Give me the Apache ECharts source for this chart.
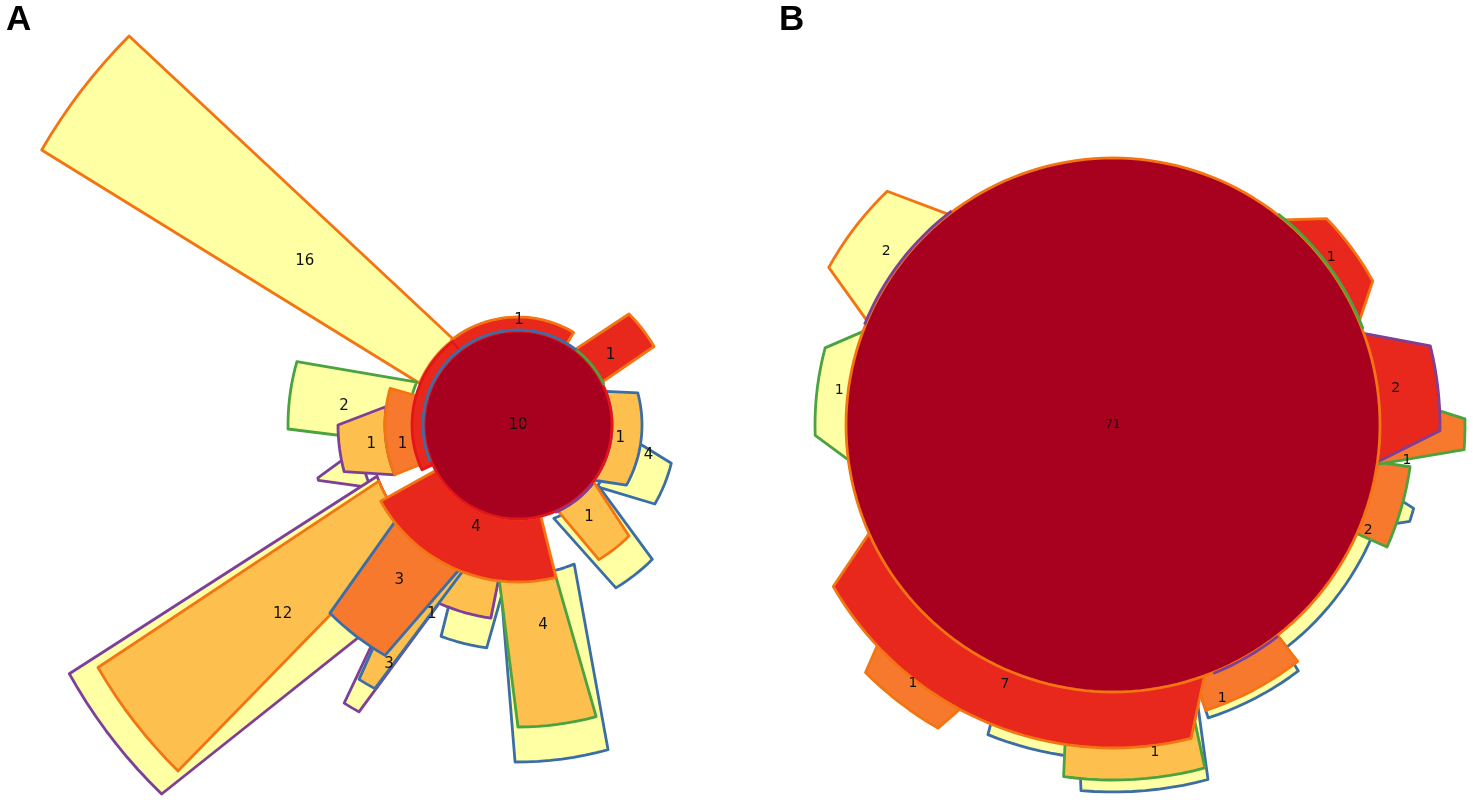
<!DOCTYPE html>
<html><head><meta charset="utf-8">
<script src="https://cdn.jsdelivr.net/npm/echarts@6/dist/echarts.min.js"></script>
<style>html,body{margin:0;padding:0;background:#fff}#c{width:1473px;height:800px}</style>
</head><body><div id="c"></div>
<script>
// Fill level of each region (0 = core circle, 4 = outermost)
const levelNames = ['core', 'level 1', 'level 2', 'level 3', 'level 4'];
// Outline set of each region
const setNames = ['set red', 'set blue', 'set green', 'set purple', 'set orange'];

// Panel A regions: [radius inner, radius outer, outer angle start, outer angle end, inner angle start, inner angle end, level, set]
const sectorsA = [
  [107, 550, 135, 150, 127, 157, 4, 4],
  [110, 230, 164, 181, 157, 190, 4, 2],
  [160, 207, 194.8, 195.5, 188, 203, 4, 3],
  [150, 513, 209, 226, 200, 245, 4, 3],
  [150, 328, 238, 241, 230, 250, 4, 3],
  [150, 225, 250, 262, 247, 266, 4, 1],
  [150, 337, 269.5, 285.5, 263, 292, 4, 1],
  [100, 158, -30, -14, -38, -3, 4, 1],
  [100, 190, -59, -45, -69, -37, 4, 1],
  [150, 485, 210, 225.5, 202, 225, 3, 4],
  [133, 180, 180, 195, 172, 202, 3, 3],
  [150, 195, 243, 262, 240, 263, 3, 3],
  [150, 300, 238, 241.5, 230, 250, 3, 1],
  [155, 302, 270, 285, 263, 284, 3, 2],
  [94, 124, -29, 15, -36, 21, 3, 1],
  [95, 157, -59, -45, -65, -37, 3, 4],
  [155, 266, 225, 240, 218, 248, 2, 1],
  [94, 133, 164, 202, 164, 202, 2, 4],
  [94, 157, 209, 284, 209, 284, 1, 4],
  [94, 157, 30, 45, 27, 53, 1, 4],
  [94, 108, 59, 128, 59, 128, 1, 4],
  [94, 106, 128, 205, 128, 205, 1, 0],
  [0, 94, 0, 360, 0, 360, 0, 0]
];
// Panel A outline arcs: [radius, angle start, angle end, set]
const outlinesA = [
  [95, 52, 203, 1],
  [95, 25, 52, 2],
  [95, -67, -38, 3]
];
// Panel A labels: [radius, angle, count]
const labelsA = [
  [269, 142.4, 16], [175, 173.8, 2], [148, 187.4, 1], [117, 189.3, 1],
  [105, 89.5, 1], [116, 37, 1], [0, 0, 10], [103, -7.3, 1], [134, -12.9, 4],
  [116, -52.3, 1], [110, 247.6, 4], [195, 232.5, 3], [302, 218.8, 12],
  [208, 245.5, 1], [272, 241.7, 3], [202, 277.1, 4]
];

// Panel B regions
const sectorsB = [
  [260, 325, 134, 151, 127, 158, 4, 4],
  [260, 298, 165, 182, 158, 189, 4, 2],
  [260, 282, -52, -17, -52, -12, 4, 1],
  [260, 312, -18, -15.5, -24, -12, 4, 1],
  [260, 308, -72, -53, -72, -52, 4, 1],
  [260, 367, 265, 285, 262, 288, 4, 1],
  [260, 334, 248, 263, 246, 264, 4, 1],
  [260, 355, 262, 285, 260, 286, 3, 2],
  [260, 350, 225, 240, 217, 247, 2, 4],
  [260, 300, -72, -52, -72, -52, 2, 4],
  [260, 300, -24, -8, -24, -8, 2, 2],
  [260, 352, -4, 1, -9, 8, 2, 2],
  [260, 297, 29, 44, 21, 52, 1, 4],
  [260, 327, -1, 14, -9, 21, 1, 3],
  [260, 323, 210, 284, 203, 291, 1, 4],
  [0, 267, 0, 360, 0, 360, 0, 4]
];
const outlinesB = [
  [268, 21, 52, 2],
  [268, 127, 158, 3],
  [268, 292, 308, 3]
];
const labelsB = [
  [0, 0, 71], [286, 142.5, 2], [276, 172.7, 1], [275, 37.5, 1], [285, 7.4, 2],
  [296, -6.8, 1], [276, -22.4, 2], [294, -68.2, 1], [330, 277.3, 1],
  [281, 247.4, 7], [327, 232.3, 1]
];

const levelColors = ['#A8001F', '#E8271D', '#F7792E', '#FDC04F', '#FFFFA3'];
const setColors = ['#E3151B', '#3B6EA8', '#4AA33F', '#7D3F98', '#F57412'];

function norm(a) { return ((a % 360) + 360) % 360; }

function arcPoints(api, r, a0, a1) {
  const pts = [];
  const n = Math.max(2, Math.ceil(Math.abs(a1 - a0) / 2));
  for (let i = 0; i <= n; i++) {
    const a = a0 + (a1 - a0) * i / n;
    pts.push(api.coord([r, norm(a)]));
  }
  return pts;
}

function renderSector(params, api) {
  const r0 = api.value(0), r1 = api.value(1);
  const oa0 = api.value(2), oa1 = api.value(3), ia0 = api.value(4), ia1 = api.value(5);
  const lvl = api.value(6), set = api.value(7);
  let pts = arcPoints(api, r1, oa0, oa1);
  if (r0 > 0) {
    pts = pts.concat(arcPoints(api, r0, ia0, ia1).reverse());
  } else if (Math.abs(oa1 - oa0) < 360) {
    pts.push(api.coord([0, 0]));
  }
  return {
    type: 'polygon', z2: params.dataIndex,
    shape: { points: pts },
    style: { fill: levelColors[lvl], stroke: setColors[set], lineWidth: 2.8, lineJoin: 'round' }
  };
}
function renderOutline(params, api) {
  const pts = arcPoints(api, api.value(0), api.value(1), api.value(2));
  return {
    type: 'polyline', z2: 1000,
    shape: { points: pts },
    style: { fill: null, stroke: setColors[api.value(3)], lineWidth: 2.8 }
  };
}
function labelRenderer(size, centerSize) {
  return function (params, api) {
    const r = api.value(0);
    const p = api.coord([r, norm(api.value(1))]);
    return {
      type: 'text', z2: 2000, x: p[0], y: p[1],
      style: {
        text: String(api.value(2)), fill: '#111',
        font: (r === 0 ? centerSize : size) + 'px "DejaVu Sans"',
        align: 'center', verticalAlign: 'middle'
      }
    };
  };
}

const axisOff = { show: false };
const chart = echarts.init(document.getElementById('c'), null, { renderer: 'canvas' });
chart.setOption({
  backgroundColor: '#fff',
  animation: false,
  polar: [
    { center: [518, 425], radius: 550 },
    { center: [1113, 425], radius: 370 }
  ],
  angleAxis: [
    { polarIndex: 0, type: 'value', min: 0, max: 360, startAngle: 0, clockwise: false, axisLine: axisOff, axisTick: axisOff, axisLabel: axisOff, splitLine: axisOff },
    { polarIndex: 1, type: 'value', min: 0, max: 360, startAngle: 0, clockwise: false, axisLine: axisOff, axisTick: axisOff, axisLabel: axisOff, splitLine: axisOff }
  ],
  radiusAxis: [
    { polarIndex: 0, type: 'value', min: 0, max: 550, axisLine: axisOff, axisTick: axisOff, axisLabel: axisOff, splitLine: axisOff },
    { polarIndex: 1, type: 'value', min: 0, max: 370, axisLine: axisOff, axisTick: axisOff, axisLabel: axisOff, splitLine: axisOff }
  ],
  graphic: [
    { type: 'text', left: 6, top: 3, style: { text: 'A', font: 'bold 35px "Liberation Sans"', fill: '#000' } },
    { type: 'text', left: 779, top: 3, style: { text: 'B', font: 'bold 35px "Liberation Sans"', fill: '#000' } }
  ],
  series: [
    { type: 'custom', coordinateSystem: 'polar', polarIndex: 0, renderItem: renderSector, data: sectorsA, encode: { radius: 1, angle: 2 }, silent: true },
    { type: 'custom', coordinateSystem: 'polar', polarIndex: 0, renderItem: renderOutline, data: outlinesA, encode: { radius: 0, angle: 1 }, silent: true, z: 3 },
    { type: 'custom', coordinateSystem: 'polar', polarIndex: 0, renderItem: labelRenderer(15, 15), data: labelsA, encode: { radius: 0, angle: 1 }, silent: true, z: 4 },
    { type: 'custom', coordinateSystem: 'polar', polarIndex: 1, renderItem: renderSector, data: sectorsB, encode: { radius: 1, angle: 2 }, silent: true },
    { type: 'custom', coordinateSystem: 'polar', polarIndex: 1, renderItem: renderOutline, data: outlinesB, encode: { radius: 0, angle: 1 }, silent: true, z: 3 },
    { type: 'custom', coordinateSystem: 'polar', polarIndex: 1, renderItem: labelRenderer(14, 12), data: labelsB, encode: { radius: 0, angle: 1 }, silent: true, z: 4 }
  ]
});
</script></body></html>
